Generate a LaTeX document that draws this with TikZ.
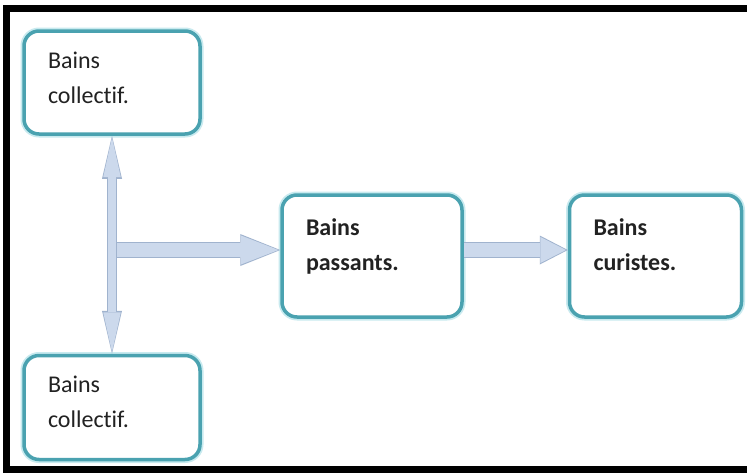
\documentclass[tikz,border=0pt]{standalone}
\usepackage{fontspec}
\setmainfont{Carlito}[Ligatures=NoCommon]
\usetikzlibrary{arrows.meta,positioning,calc}
\definecolor{bainteal}{HTML}{4AA2B0}
\definecolor{bainglow}{HTML}{C8EAEF}
\definecolor{bainfill}{HTML}{CCD9EC}
\definecolor{bainedge}{HTML}{A0B3CE}
\definecolor{baintext}{HTML}{222222}
\tikzset{
  bainbox/.style={rectangle, rounded corners=15pt, draw=bainteal, line width=3.5pt, fill=white, text=baintext, align=left, text width=128pt, inner xsep=24pt, inner ysep=0pt, text height=37pt, text depth=66pt, font=\fontsize{24}{35}\selectfont, preaction={draw=bainglow, line width=7pt}},
  flowbox/.style={bainbox, text height=40pt, text depth=82pt, font=\fontsize{24}{35}\selectfont\bfseries},
}

\begin{document}
\begin{tikzpicture}[x=1pt,y=-1pt]
  \clip (0,0) rectangle (747,472);
  \fill[white] (0,0) rectangle (747,472);
  \draw[line width=7pt] (6.5,8) rectangle (770,469.5);
  \node[bainbox] (col1) at (112,82.5) {Bains\\collectif.};
  \node[bainbox,text depth=67pt,below=218pt of col1] (col2) {Bains\\collectif.};
  \node[flowbox,text width=132pt] (pass) at (372,256) {Bains\\passants.};
  \node[flowbox,text width=124pt,right=104pt of pass] (curist) {Bains\\curistes.};
  \coordinate[yshift=6pt] (hub) at (col1.south |- pass.west);
  \draw[line width=16pt,draw=bainedge,-{Triangle[length=40pt,width=32pt,line width=0pt]},
    postaction={draw=bainfill,line width=14pt,shorten >=1.8pt,-{Triangle[length=37.5pt,width=29pt,line width=0pt]}}]
    (hub) -- (hub -| pass.west);
  \draw[line width=16pt,draw=bainedge,-{Triangle[length=28pt,width=29pt,line width=0pt]},
    postaction={draw=bainfill,line width=14pt,shorten >=1.8pt,-{Triangle[length=25.5pt,width=26pt,line width=0pt]}}]
    ([yshift=6pt]pass.east) -- ([yshift=6pt]curist.west);
  \draw[line width=10pt,draw=bainedge,{Triangle[length=43pt,width=20pt,line width=0pt]}-{Triangle[length=43pt,width=20pt,line width=0pt]},
    postaction={draw=bainfill,line width=8pt,shorten >=1.8pt,shorten <=1.8pt,{Triangle[length=39.5pt,width=17.5pt,line width=0pt]}-{Triangle[length=39.5pt,width=17.5pt,line width=0pt]}}]
    (col1) -- (col2);
\end{tikzpicture}
\end{document}
